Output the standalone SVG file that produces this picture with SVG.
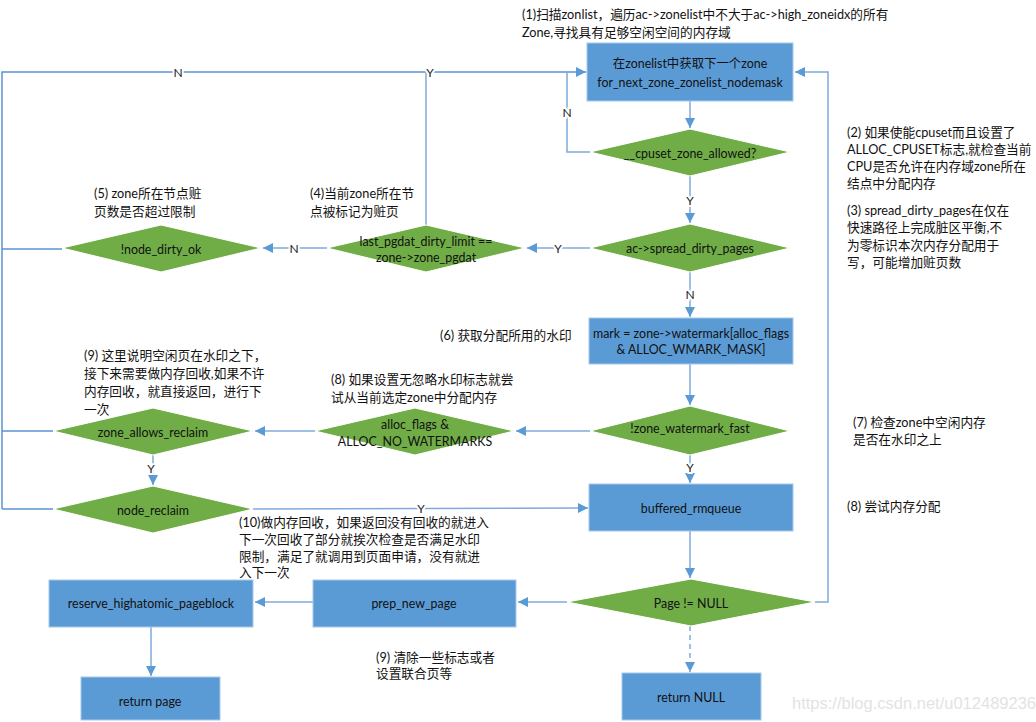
<svg xmlns="http://www.w3.org/2000/svg" width="1036" height="722" viewBox="0 0 1036 722">
<style>
text{font-family:"Lato","Noto Sans CJK SC",sans-serif;font-size:12.7px;fill:#111}
.box{fill:#5B9BD5;stroke:#a8c8ea;stroke-width:1}
.dia{fill:#70AD47;stroke:#ffffff;stroke-width:1}
.nt{font-size:12.4px;text-anchor:middle;dominant-baseline:central}
.ann{dominant-baseline:central}
.lbl{font-size:12px;text-anchor:middle;dominant-baseline:central;stroke:#fff;stroke-width:4px;paint-order:stroke;fill:#222}
.ln{fill:none;stroke:#7FAADB;stroke-width:1.5}
.lnb{fill:none;stroke:#5B93D1;stroke-width:1.5}
.dash{stroke-dasharray:5 4}
.wm{font-family:"Liberation Sans",sans-serif;font-size:16.5px;fill:#e3e3e3;text-anchor:start;dominant-baseline:central}
</style>
<defs>
<marker id="ar" viewBox="0 0 10 10" refX="10" refY="5" markerWidth="10" markerHeight="10" markerUnits="userSpaceOnUse" orient="auto">
<path d="M0,0 L10,5 L0,10 z" fill="#5B9BD5"/>
</marker>
</defs>

<g id="connectors">
<path class="lnb" d="M2,509 L2,72 L586,72" stroke-width="2.5" marker-end="url(#ar)"/>
<path class="lnb" d="M62,249 L2,249"/>
<path class="lnb" d="M53,431 L2,431"/>
<path class="lnb" d="M53,509 L2,509"/>
<path class="ln" d="M426,225 L426,72"/>
<path class="ln" d="M590,152 L567,152 L567,72"/>
<path class="ln" d="M690,101 L690,128" marker-end="url(#ar)"/>
<path class="ln" d="M690,176 L690,223" marker-end="url(#ar)"/>
<path class="ln" d="M590,248 L527,248" marker-end="url(#ar)"/>
<path class="ln" d="M327,248 L263,248" marker-end="url(#ar)"/>
<path class="ln" d="M690,272 L690,317" marker-end="url(#ar)"/>
<path class="ln" d="M690,364 L690,405" marker-end="url(#ar)"/>
<path class="ln" d="M590,431 L516,431" marker-end="url(#ar)"/>
<path class="ln" d="M315,431 L255,431" marker-end="url(#ar)"/>
<path class="ln" d="M153,455 L153,485" marker-end="url(#ar)"/>
<path class="ln" d="M253,509 L588,508" marker-end="url(#ar)"/>
<path class="ln" d="M690,455 L690,483" marker-end="url(#ar)"/>
<path class="ln" d="M690,531 L690,578" marker-end="url(#ar)"/>
<path class="ln" d="M815,602 L828,602 L828,72 L795,72" marker-end="url(#ar)"/>
<path class="ln" d="M567,602 L518,602" marker-end="url(#ar)"/>
<path class="ln" d="M313,602 L255,602" marker-end="url(#ar)"/>
<path class="ln" d="M151,627 L151,676" marker-end="url(#ar)"/>
<path class="ln dash" d="M690,626 L690,672" marker-end="url(#ar)"/>
<text class="lbl" x="178" y="72">N</text>
<text class="lbl" x="430" y="72">Y</text>
<text class="lbl" x="567" y="112">N</text>
<text class="lbl" x="690" y="200">Y</text>
<text class="lbl" x="558" y="248">Y</text>
<text class="lbl" x="294" y="248">N</text>
<text class="lbl" x="690" y="294">N</text>
<text class="lbl" x="151" y="468">Y</text>
<text class="lbl" x="690" y="467">Y</text>
<text class="lbl" x="421" y="508">Y</text>
</g>

<g id="n-next-zone">
<rect class="box" x="587" y="43" width="206" height="58"/>
<text class="nt" x="690" y="63">在zonelist中获取下一个zone</text>
<text class="nt" x="690" y="82">for_next_zone_zonelist_nodemask</text>
</g>
<g id="n-cpuset">
<polygon class="dia" points="690,129 790,152 690,176 590,152"/>
<text class="nt" x="690" y="153">__cpuset_zone_allowed?</text>
</g>
<g id="n-spread">
<polygon class="dia" points="690,224 790,248 690,272 590,248"/>
<text class="nt" x="690" y="248">ac-&gt;spread_dirty_pages</text>
</g>
<g id="n-last-pgdat">
<polygon class="dia" points="426,225 525,248 426,272 327,248"/>
<text class="nt" x="426" y="241">last_pgdat_dirty_limit ==</text>
<text class="nt" x="426" y="257">zone-&gt;zone_pgdat</text>
</g>
<g id="n-node-dirty-ok">
<polygon class="dia" points="161,225 261,248 161,272 62,248"/>
<text class="nt" x="161" y="249">!node_dirty_ok</text>
</g>
<g id="n-mark">
<rect class="box" x="589" y="318" width="204" height="46"/>
<text class="nt" x="691" y="333">mark = zone-&gt;watermark[alloc_flags</text>
<text class="nt" x="691" y="349">&amp; ALLOC_WMARK_MASK]</text>
</g>
<g id="n-zwf">
<polygon class="dia" points="690,406 790,431 690,455 590,431"/>
<text class="nt" x="690" y="428">!zone_watermark_fast</text>
</g>
<g id="n-alloc-flags">
<polygon class="dia" points="415,408 514,431 415,455 315,431"/>
<text class="nt" x="415" y="424">alloc_flags &amp;</text>
<text class="nt" x="415" y="441">ALLOC_NO_WATERMARKS</text>
</g>
<g id="n-zone-allows-reclaim">
<polygon class="dia" points="153,408 253,431 153,455 53,431"/>
<text class="nt" x="153" y="432">zone_allows_reclaim</text>
</g>
<g id="n-node-reclaim">
<polygon class="dia" points="153,486 253,509 153,533 53,509"/>
<text class="nt" x="153" y="510">node_reclaim</text>
</g>
<g id="n-buffered">
<rect class="box" x="589" y="484" width="204" height="47"/>
<text class="nt" x="691" y="508">buffered_rmqueue</text>
</g>
<g id="n-page">
<polygon class="dia" points="691,579 815,602 691,626 567,602"/>
<text class="nt" x="691" y="603">Page != NULL</text>
</g>
<g id="n-prep">
<rect class="box" x="313" y="580" width="203" height="47"/>
<text class="nt" x="414" y="603">prep_new_page</text>
</g>
<g id="n-reserve">
<rect class="box" x="49" y="580" width="204" height="47"/>
<text class="nt" x="151" y="603">reserve_highatomic_pageblock</text>
</g>
<g id="n-return-page">
<rect class="box" x="81" y="677" width="139" height="43"/>
<text class="nt" x="150" y="701">return page</text>
</g>
<g id="n-return-null">
<rect class="box" x="622" y="673" width="139" height="47"/>
<text class="nt" x="691" y="697">return NULL</text>
</g>

<g id="annotations">
<text class="ann" x="522" y="14">(1)扫描zonlist，遍历ac-&gt;zonelist中不大于ac-&gt;high_zoneidx的所有</text>
<text class="ann" x="522" y="32">Zone,寻找具有足够空闲空间的内存域</text>
<text class="ann" x="847" y="132">(2) 如果使能cpuset而且设置了</text>
<text class="ann" x="847" y="149">ALLOC_CPUSET标志,就检查当前</text>
<text class="ann" x="847" y="166">CPU是否允许在内存域zone所在</text>
<text class="ann" x="847" y="183">结点中分配内存</text>
<text class="ann" x="847" y="210">(3) spread_dirty_pages在仅在</text>
<text class="ann" x="847" y="227">快速路径上完成脏区平衡,不</text>
<text class="ann" x="847" y="245">为零标识本次内存分配用于</text>
<text class="ann" x="847" y="262">写，可能增加赃页数</text>
<text class="ann" x="94" y="193">(5) zone所在节点赃</text>
<text class="ann" x="94" y="211">页数是否超过限制</text>
<text class="ann" x="310" y="193">(4)当前zone所在节</text>
<text class="ann" x="310" y="211">点被标记为赃页</text>
<text class="ann" x="440" y="335">(6) 获取分配所用的水印</text>
<text class="ann" x="84" y="355">(9) 这里说明空闲页在水印之下，</text>
<text class="ann" x="84" y="373">接下来需要做内存回收,如果不许</text>
<text class="ann" x="84" y="391">内存回收，就直接返回，进行下</text>
<text class="ann" x="84" y="409">一次</text>
<text class="ann" x="331" y="379">(8) 如果设置无忽略水印标志就尝</text>
<text class="ann" x="331" y="397">试从当前选定zone中分配内存</text>
<text class="ann" x="853" y="422">(7) 检查zone中空闲内存</text>
<text class="ann" x="853" y="439">是否在水印之上</text>
<text class="ann" x="847" y="506">(8) 尝试内存分配</text>
<text class="ann" x="239" y="522">(10)做内存回收，如果返回没有回收的就进入</text>
<text class="ann" x="239" y="539">下一次回收了部分就挨次检查是否满足水印</text>
<text class="ann" x="239" y="556">限制，满足了就调用到页面申请，没有就进</text>
<text class="ann" x="239" y="572">入下一次</text>
<text class="ann" x="376" y="657">(9) 清除一些标志或者</text>
<text class="ann" x="376" y="673">设置联合页等</text>
<text class="wm" x="792" y="703">https://blog.csdn.net/u012489236</text>
</g>
</svg>
